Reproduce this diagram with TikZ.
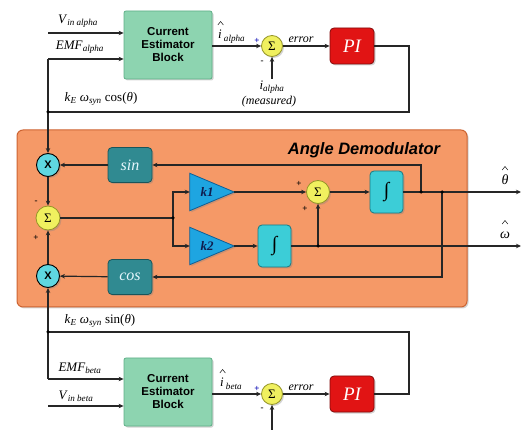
\documentclass[tikz,border=0pt]{standalone}
\usepackage{fontspec}
\setmainfont{Liberation Serif}
\setsansfont{Liberation Sans}
\usetikzlibrary{arrows.meta,shadows,calc}
\definecolor{cegreen}{RGB}{141,212,176}
\definecolor{cegreenD}{RGB}{95,175,135}
\definecolor{demodfill}{RGB}{245,153,103}
\definecolor{demoddraw}{RGB}{205,100,50}
\definecolor{tealbox}{RGB}{48,138,145}
\definecolor{tealboxD}{RGB}{25,85,90}
\definecolor{intcyan}{RGB}{60,205,215}
\definecolor{intcyanD}{RGB}{25,120,130}
\definecolor{kblue}{RGB}{30,165,225}
\definecolor{kblueD}{RGB}{15,95,150}
\definecolor{xcyan}{RGB}{95,215,225}
\definecolor{sumyellow}{RGB}{240,240,95}
\definecolor{sumyellowD}{RGB}{150,150,40}
\definecolor{pired}{RGB}{225,20,20}
\definecolor{piredD}{RGB}{130,10,10}
\definecolor{navy}{RGB}{15,30,80}
\newcommand\hatat[1]{\draw[hatline] ($(#1)+(-2.8,2)$) -- ($(#1)+(0,-1.5)$) -- ($(#1)+(2.8,2)$);}
\tikzset{
  wire/.style={line width=1.2pt, draw=black!85},
  arr/.style={wire, -{Stealth[length=5pt,width=4.5pt]}},
  hatline/.style={line width=0.6pt, draw=black!80},
  shad/.style={drop shadow={opacity=0.35, shadow xshift=1.5pt, shadow yshift=-1.5pt}},
  ceblock/.style={draw=cegreenD, line width=0.8pt, fill=cegreen, rounded corners=2pt, minimum width=88pt, minimum height=68pt, inner sep=0pt, align=center, font=\sffamily\bfseries\fontsize{11.5}{13}\selectfont, shad},
  piblock/.style={draw=piredD, line width=0.8pt, fill=pired, rounded corners=4pt, minimum width=44pt, minimum height=36pt, inner sep=0pt, text=white, font=\itshape\fontsize{19}{20}\selectfont, shad},
  sumnode/.style={circle, draw=sumyellowD, line width=0.8pt, fill=sumyellow, minimum size=21pt, inner sep=0pt, font=\fontsize{13}{13}\selectfont, shad},
  xnode/.style={circle, draw=black, line width=0.9pt, fill=xcyan, minimum size=23pt, inner sep=0pt, font=\sffamily\bfseries\fontsize{11}{11}\selectfont, shad},
  trigbox/.style={draw=tealboxD, line width=0.8pt, fill=tealbox, rounded corners=4pt, minimum width=44pt, minimum height=35pt, inner sep=0pt, text=white!90!cyan, font=\itshape\fontsize{16}{16}\selectfont, shad},
  intbox/.style={draw=intcyanD, line width=0.8pt, fill=intcyan, rounded corners=4pt, minimum width=33pt, minimum height=42pt, inner sep=0pt, font=\fontsize{20}{20}\selectfont, shad},
  kframe/.style={minimum width=44pt, minimum height=37pt, inner sep=0pt, text=navy, font=\bfseries\itshape\fontsize{13}{13}\selectfont},
  lbl/.style={inner sep=0pt, font=\fontsize{13}{14}\selectfont},
  sgn/.style={inner sep=0pt, font=\bfseries\fontsize{9}{9}\selectfont},
  jdot/.style={fill=black, circle, inner sep=0pt, minimum size=3.5pt},
}
\begin{document}
\begin{tikzpicture}[x=1pt, y=-1pt]
\useasboundingbox (0,0) rectangle (525,430);
% ---------- Angle demodulator container ----------
\node[draw=demoddraw, line width=1pt, fill=demodfill, rounded corners=6pt, minimum width=450pt, minimum height=177pt, inner sep=0pt, shad] (demod) at (242,218.5) {};
\node[inner sep=0pt, font=\sffamily\bfseries\itshape\fontsize{16.5}{17}\selectfont] (demodtitle) at (364,150) {Angle Demodulator};

% ---------- top (alpha) section ----------
\node[ceblock] (ceA) at (168,45) {Current\\Estimator\\Block};
\node[sumnode] (sumA) at (272,46) {Σ};
\node[piblock] (piA) at (352,46) {PI};
\coordinate (vinA) at (48,33);
\coordinate (emfA) at (48,59);
\coordinate (jA) at (48,112);
\coordinate (fbA) at (409,112);
\coordinate (imA) at (272,79);
\node[lbl] (lvinA) at (78,21) {\textit{V}\textsubscript{\textit{in alpha}}};
\node[lbl] (lemfA) at (80,47) {\textit{EMF}\textsubscript{\textit{alpha}}};
\node[lbl, anchor=base west] (liA) at (218,39) {\textit{i}\,\textsubscript{\textit{alpha}}};
\coordinate (hiA) at ($(liA.base west)+(2.6,-16)$);
\hatat{hiA}
\node[lbl] (lkA) at (101,99) {\textit{k}\textsubscript{\textit{E}} \textit{ω}\textsubscript{\textit{syn}} cos(\textit{θ})};
\node[lbl, font=\itshape\fontsize{12}{13}\selectfont] (lerrA) at (301,40) {error};
\node[lbl] (lmA1) at (272,87) {\textit{i}\textsubscript{\textit{alpha}}};
\node[lbl, font=\itshape\fontsize{12}{13}\selectfont] (lmA2) at (269,102) {(measured)};
\node[sgn, text=blue!70!black] (pA) at (257,41) {+};
\node[sgn] (mA) at (262,62) {-};

\draw[arr] (vinA) -- (vinA -| ceA.west);
\draw[arr] (emfA) -- (emfA -| ceA.west);
\draw[wire] (jA) -- (emfA);
\draw[wire] (piA.east) -| (fbA) -- (jA);
\draw[arr] (ceA.east |- sumA.west) -- (sumA.west);
\draw[arr] (sumA) -- (piA);
\draw[arr] (imA) -- (sumA.south);

% ---------- demodulator internals ----------
\node[xnode] (xA) at (48,165) {X};
\node[sumnode, minimum size=24pt] (sumL) at (48,218) {Σ};
\node[xnode] (xB) at (48,276) {X};
\node[trigbox] (sinb) at (130,165) {sin};
\node[trigbox] (cosb) at (130,277) {cos};
\node[kframe] (k1) at (212,192) {};
\node[kframe] (k2) at (212,246) {};
\fill[kblue, draw=kblueD, line width=0.8pt, shad] (k1.north west) -- (k1.east) -- (k1.south west) -- cycle;
\fill[kblue, draw=kblueD, line width=0.8pt, shad] (k2.north west) -- (k2.east) -- (k2.south west) -- cycle;
\node[kframe] at (k1.center) [xshift=-5pt] {k1};
\node[kframe] at (k2.center) [xshift=-5pt] {k2};
\node[sumnode, minimum size=23pt] (sum2) at (318,192) {Σ};
\node[intbox] (int2) at (274.5,246) {∫};
\node[intbox] (int1) at (386.5,192) {∫};
\coordinate (j1) at (173,218);
\coordinate (jt) at (421,192);
\coordinate (jc) at (442,192);
\coordinate (jw) at (318,246);
\coordinate (tout) at (521,192);
\coordinate (wout) at (521,246);
\node[lbl, anchor=base, font=\fontsize{14}{15}\selectfont] (lth) at (505,185) {\textit{θ}};
\node[lbl, anchor=base, font=\fontsize{14}{15}\selectfont] (lom) at (505,239) {\textit{ω}};
\coordinate (hth) at (505,168);
\coordinate (hom) at (505,222);
\hatat{hth}
\hatat{hom}
\node[sgn] (mL) at (36,202) {-};
\node[sgn] (pL) at (36,238) {+};
\node[sgn] (p21) at (299,184) {+};
\node[sgn] (p22) at (305,209) {+};

\draw[arr] (jA) -- (xA.north);
\draw[arr] (xA) -- (sumL);
\draw[arr] (xB) -- (sumL);
\draw[arr] (sinb) -- (xA);
\draw[arr] (cosb) -- (xB);
\draw[wire] (sumL.east) -- (j1);
\draw[arr] (j1) |- (k1.west);
\draw[arr] (j1) |- (k2.west);
\draw[arr] (k1.east) -- (sum2.west);
\draw[arr] (k2.east) -- (int2.west);
\draw[arr] (int2.east) -- (wout);
\draw[arr] (jw) -- (sum2.south);
\draw[arr] (sum2.east) -- (int1.west);
\draw[arr] (int1.east) -- (tout);
\draw[arr] (jt) |- (sinb.east);
\draw[arr] (jc) |- (cosb.east);
\node[jdot] at (j1) {};
\node[jdot] at (jt) {};
\node[jdot] at (jc) {};
\node[jdot] at (jw) {};
\node[jdot] at (jA) {};

% ---------- bottom (beta) section ----------
\node[ceblock] (ceB) at (168,392) {Current\\Estimator\\Block};
\node[sumnode] (sumB) at (272,394) {Σ};
\node[piblock] (piB) at (352,394) {PI};
\coordinate (jB) at (48,332);
\coordinate (emfB) at (48,379);
\coordinate (vinB) at (48,406);
\coordinate (fbB) at (409,332);
\coordinate (imB) at (272,432);
\node[lbl] (lkB) at (100,321) {\textit{k}\textsubscript{\textit{E}} \textit{ω}\textsubscript{\textit{syn}} sin(\textit{θ})};
\node[lbl] (lemfB) at (80,368) {\textit{EMF}\textsubscript{\textit{beta}}};
\node[lbl] (lvinB) at (76,396) {\textit{V}\textsubscript{\textit{in beta}}};
\node[lbl, anchor=base west] (liB) at (220,387) {\textit{i}\,\textsubscript{\textit{beta}}};
\coordinate (hiB) at ($(liB.base west)+(2.6,-16)$);
\hatat{hiB}
\node[lbl, font=\itshape\fontsize{12}{13}\selectfont] (lerrB) at (301,388) {error};
\node[sgn, text=blue!70!black] (pB) at (257,389) {+};
\node[sgn] (mB) at (262,409) {-};

\draw[arr] (jB) -- (xB.south);
\draw[wire] (jB) -- (emfB);
\draw[arr] (emfB) -- (emfB -| ceB.west);
\draw[arr] (vinB) -- (vinB -| ceB.west);
\draw[wire] (piB.east) -| (fbB) -- (jB);
\draw[arr] (ceB.east |- sumB.west) -- (sumB.west);
\draw[arr] (sumB) -- (piB);
\draw[arr] (imB) -- (sumB.south);
\node[jdot] at (jB) {};
\end{tikzpicture}
\end{document}
